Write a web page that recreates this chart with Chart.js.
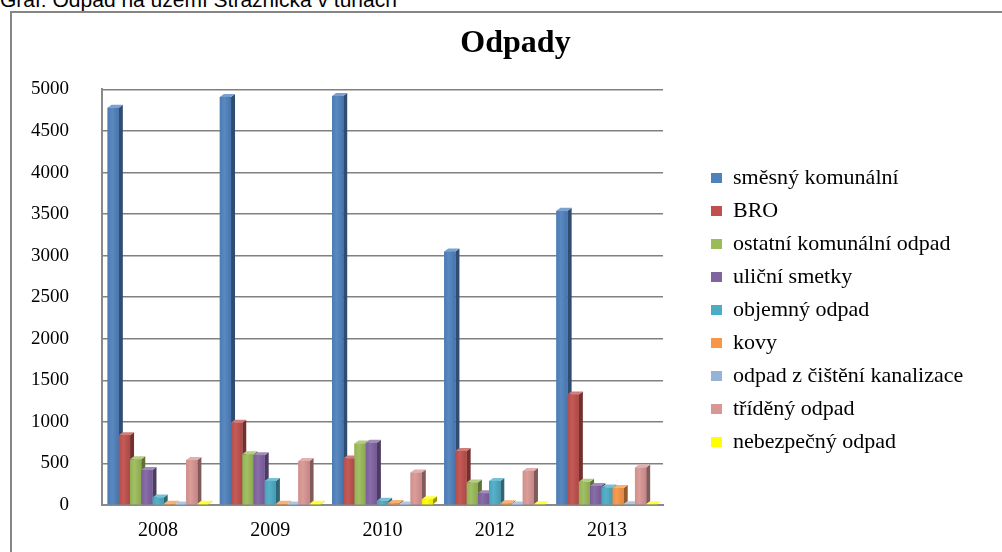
<!DOCTYPE html>
<html>
<head>
<meta charset="utf-8">
<script src="https://cdn.jsdelivr.net/npm/chart.js@4/dist/chart.umd.min.js"></script>
<style>
  html, body { margin: 0; padding: 0; background: #fff; overflow: hidden; }
  body { width: 1002px; height: 552px; position: relative; }
  #caption {
    position: absolute; left: 0; top: -10px;
    font: 21px/20px "Liberation Sans", Arial, sans-serif; color: #000; white-space: nowrap;
  }
  #frame {
    position: absolute; left: 10px; top: 11px; width: 1010px; height: 560px;
    border: 2px solid #858585; box-sizing: border-box;
  }
  #wrap { position: absolute; left: 12px; top: 13px; width: 990px; height: 544px; }
</style>
</head>
<body>
<div id="caption">Graf: Odpad na území Strážnicka v tunách</div>
<div id="frame"></div>
<div id="wrap"><canvas id="odpadyChart" width="990" height="544"></canvas></div>
<script>
// roky a hodnoty v tunách
const years = ['2008', '2009', '2010', '2012', '2013'];
const seriesNames = ['směsný komunální', 'BRO', 'ostatní komunální odpad', 'uliční smetky',
  'objemný odpad', 'kovy', 'odpad z čištění kanalizace', 'tříděný odpad', 'nebezpečný odpad'];
const smesny = [4780, 4910, 4920, 3050, 3540];
const bro = [840, 990, 560, 650, 1330];
const ostatni = [550, 610, 740, 270, 280];
const smetky = [420, 600, 750, 140, 230];
const objemny = [90, 290, 50, 290, 210];
const kovy = [15, 15, 25, 20, 205];
const kanalizace = [5, 5, 5, 5, 8];
const trideny = [540, 530, 390, 410, 450];
const nebezpecny = [15, 15, 70, 8, 8];
const yTicks = [0, 500, 1000, 1500, 2000, 2500, 3000, 3500, 4000, 4500, 5000];

const colors = ['#4F81BD', '#C0504D', '#9BBB59', '#8064A2', '#4BACC6', '#F79646', '#95B3D7', '#D99694', '#FFFF00'];
const allValues = [smesny, bro, ostatni, smetky, objemny, kovy, kanalizace, trideny, nebezpecny];
const legendWidth = 302;

function shade(hex, f) {
    const n = parseInt(hex.slice(1), 16);
    const ch = [(n >> 16) & 255, (n >> 8) & 255, n & 255].map(c => {
        const v = f < 1 ? c * f : c + (255 - c) * (f - 1);
        return Math.round(Math.max(0, Math.min(255, v)));
    });
    return 'rgb(' + ch.join(',') + ')';
}

// jednoduchý "3D" efekt – boční a horní stěna sloupců
const bar3d = {
    id: 'bar3d',
    afterDatasetsDraw(chart) {
        const ctx = chart.ctx;
        const dx = 4, dy = 3;
        ctx.save();
        chart.data.datasets.forEach((ds, i) => {
            const meta = chart.getDatasetMeta(i);
            meta.data.forEach(bar => {
                const p = bar.getProps(['x', 'y', 'base', 'width'], true);
                const l = p.x - p.width / 2, r = p.x + p.width / 2;
                ctx.fillStyle = shade(colors[i], 0.6);
                ctx.beginPath();
                ctx.moveTo(r, p.y); ctx.lineTo(r + dx, p.y - dy);
                ctx.lineTo(r + dx, p.base - dy); ctx.lineTo(r, p.base);
                ctx.closePath(); ctx.fill();
                ctx.fillStyle = shade(colors[i], 1.25);
                ctx.beginPath();
                ctx.moveTo(l, p.y); ctx.lineTo(l + dx, p.y - dy);
                ctx.lineTo(r + dx, p.y - dy); ctx.lineTo(r, p.y);
                ctx.closePath(); ctx.fill();
                const g = ctx.createLinearGradient(l, 0, r, 0);
                g.addColorStop(0, shade(colors[i], 0.95));
                g.addColorStop(0.4, shade(colors[i], 1.06));
                g.addColorStop(1, shade(colors[i], 0.9));
                ctx.fillStyle = g;
                ctx.fillRect(l, p.y, p.width, p.base - p.y);
            });
        });
        ctx.restore();
    }
};

// legenda je širší, než by jí Chart.js normálně dovolil
const wideLegend = {
    id: 'wideLegend',
    beforeLayout(chart) {
        const lg = chart.legend;
        if (lg && !lg._wideFit) {
            const fit = lg.fit.bind(lg);
            lg.fit = function () { fit(); this.width = legendWidth; };
            lg._wideFit = true;
        }
    }
};

const serif = '"Liberation Serif", "Times New Roman", serif';

new Chart(document.getElementById('odpadyChart'), {
    type: 'bar',
    data: {
        labels: years,
        datasets: seriesNames.map((name, i) => ({
            label: name,
            data: allValues[i],
            backgroundColor: colors[i],
            borderWidth: 0,
            barPercentage: 1.0,
            categoryPercentage: 0.9
        }))
    },
    options: {
        responsive: false,
        animation: false,
        layout: { padding: { left: 17, right: 0, top: 0, bottom: 0 } },
        plugins: {
            title: {
                display: true,
                text: 'Odpady',
                color: '#000',
                font: { family: serif, size: 32, weight: 'bold' },
                padding: { top: 12, bottom: 26 }
            },
            legend: {
                position: 'right',
                align: 'start',
                title: { display: true, text: ' ', font: { size: 10, lineHeight: 1 }, padding: { top: 133, bottom: 0 } },
                labels: {
                    color: '#000',
                    font: { family: serif, size: 22 },
                    boxWidth: 11,
                    boxHeight: 10,
                    padding: 11
                }
            },
            tooltip: { enabled: false }
        },
        scales: {
            x: {
                grid: { display: false, drawTicks: false },
                border: { display: true, color: '#8a8a8a', width: 2 },
                ticks: { color: '#000', font: { family: serif, size: 20 }, padding: 14 }
            },
            y: {
                min: 0,
                max: 5000,
                afterBuildTicks: s => { s.ticks = yTicks.map(v => ({ value: v })); },
                afterFit: s => { s.width = 73; },
                grid: { color: '#808080', lineWidth: 1.5, drawTicks: false },
                border: { display: true, color: '#8a8a8a', width: 2 },
                ticks: { color: '#000', font: { family: serif, size: 19 }, padding: 33, callback: v => String(v) }
            },
            gap: {
                position: 'right',
                display: true,
                grid: { drawOnChartArea: false, drawTicks: false },
                border: { display: false },
                ticks: { display: false },
                afterFit: s => { s.width = 37; }
            }
        }
    },
    plugins: [bar3d, wideLegend]
});
</script>
</body>
</html>
